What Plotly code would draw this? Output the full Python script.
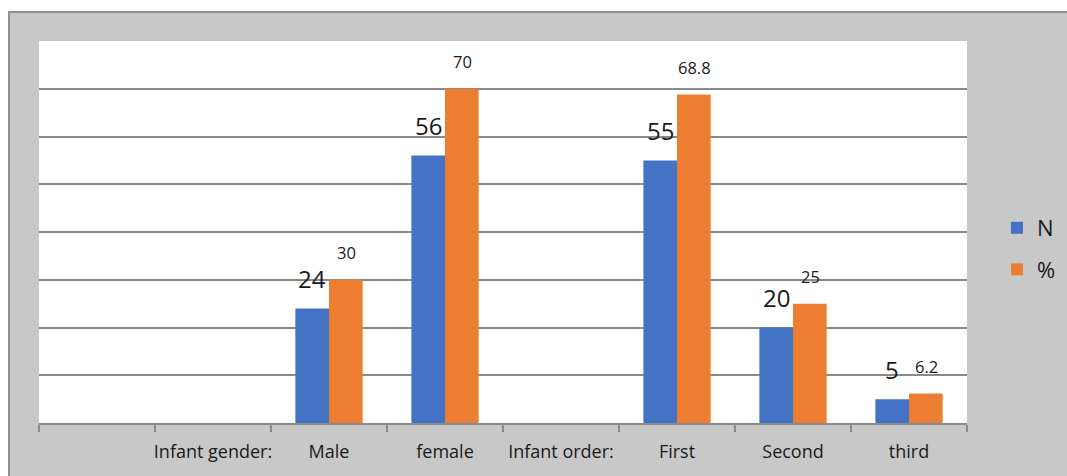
import plotly.graph_objects as go

categories = [" ", "Infant gender:", "Male", "female", "Infant order:", "First", "Second", "third"]
n_values = [None, None, 24, 56, None, 55, 20, 5]
pct_values = [None, None, 30, 70, None, 68.8, 25, 6.2]
n_labels = ["", "", "24", "56", "", "55", "20", "5"]
pct_labels = ["", "", "30", "70", "", "68.8", "25", "6.2"]

BLUE = "#4472c4"
ORANGE = "#ed7d31"
GRID = "#8a8a8a"
BG = "#c8c8c8"
FONT = "Open Sans"

# plot area in pixels
W, H = 1067, 476
L, R, T, B = 39, 967, 41, 423
pw, ph = R - L, B - T

def px_x(p):
    return (p - L) / pw

def px_y(p):
    return (B - p) / ph

fig = go.Figure()
fig.add_trace(go.Bar(x=categories, y=n_values, name="N", marker_color=BLUE,
                     marker_line_width=0, legendgroup="n"))
fig.add_trace(go.Bar(x=categories, y=pct_values, name="%", marker_color=ORANGE,
                     marker_line_width=0, legendgroup="p"))

annotations = []
for c, v, t in zip(categories, n_values, n_labels):
    if v is None:
        continue
    annotations.append(dict(x=c, y=v, xref="x", yref="y", text=t, showarrow=False,
                            xshift=-17, yshift=30, yanchor="middle",
                            font=dict(family=FONT, size=24, color="#1a1a1a")))
for c, v, t in zip(categories, pct_values, pct_labels):
    if v is None:
        continue
    annotations.append(dict(x=c, y=v, xref="x", yref="y", text=t, showarrow=False,
                            xshift=17, yshift=27, yanchor="middle",
                            font=dict(family=FONT, size=16.5, color="#1a1a1a")))

shapes = [
    # white strips outside the grey frame
    dict(type="rect", xref="paper", yref="paper", x0=px_x(-5), x1=px_x(9), y0=px_y(H + 20), y1=px_y(-20),
         fillcolor="white", line_width=0, layer="above"),
    dict(type="rect", xref="paper", yref="paper", x0=px_x(-5), x1=px_x(W + 20), y0=px_y(12), y1=px_y(-20),
         fillcolor="white", line_width=0, layer="above"),
    # grey frame border
    dict(type="rect", xref="paper", yref="paper", x0=px_x(9), x1=px_x(W + 20), y0=px_y(H + 20), y1=px_y(12),
         fillcolor="rgba(0,0,0,0)", line=dict(color="#909090", width=2), layer="above"),
]

fig.update_layout(
    width=W, height=H,
    margin=dict(l=L, r=W - R, t=T, b=H - B, pad=0, autoexpand=False),
    paper_bgcolor=BG, plot_bgcolor="white",
    barmode="group", bargap=0.42, bargroupgap=0,
    font=dict(family=FONT, size=18, color="#1a1a1a"),
    showlegend=True,
    legend=dict(x=px_x(997), y=px_y(249), xanchor="left", yanchor="middle",
                bgcolor="rgba(0,0,0,0)", font=dict(family=FONT, size=22, color="#1a1a1a"),
                tracegroupgap=10, itemwidth=30),
    annotations=annotations,
    shapes=shapes,
)
fig.update_xaxes(type="category", categoryorder="array", categoryarray=categories,
                 tickson="boundaries", ticks="outside", ticklen=7, tickcolor=GRID, tickwidth=1.5,
                 showline=True, linecolor=GRID, linewidth=1.5, showgrid=False,
                 ticklabelstandoff=12, tickangle=0, automargin=False,
                 tickfont=dict(family=FONT, size=18, color="#1a1a1a"), fixedrange=True)
fig.update_yaxes(range=[0, 80], dtick=10, showgrid=True, gridcolor=GRID, gridwidth=1.5,
                 showticklabels=False, zeroline=False, showline=False, fixedrange=True,
                 automargin=False)

fig.write_html("out.html")
